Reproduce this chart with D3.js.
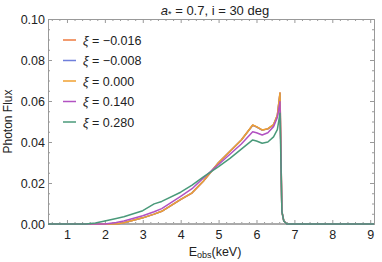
<!DOCTYPE html>
<html>
<head>
<meta charset="utf-8">
<script src="https://cdn.jsdelivr.net/npm/d3@7"></script>
<style>
  body { margin: 0; background: #fff; }
  svg { font-family: "Liberation Sans", Arial, sans-serif; }
  .tick text { fill: #222; font-size: 12.5px; }
</style>
</head>
<body>
<div id="chart"></div>
<script>
// Energies (keV) shared by every curve
const energy = [0.5, 1.0, 1.5, 1.75, 2.0, 2.3, 2.5, 3.0, 3.3, 3.5, 4.0, 4.3, 4.6, 5.0, 5.3, 5.6, 5.9, 6.0, 6.15, 6.3, 6.45, 6.55, 6.62, 6.67, 6.72, 6.8, 7.0, 8.0, 9.1];

// Photon flux for each xi value
const fluxM016 = [0, 0, 0, 0, 0, 0, 0.0006, 0.0030, 0.0048, 0.0062, 0.0119, 0.0151, 0.0209, 0.0299, 0.0354, 0.0410, 0.0482, 0.0474, 0.0458, 0.0464, 0.0484, 0.0529, 0.0640, 0.0060, 0.0015, 0, 0, 0, 0];
const fluxM008 = [0, 0, 0, 0, 0, 0, 0.0006, 0.0030, 0.0048, 0.0062, 0.0120, 0.0152, 0.0210, 0.0300, 0.0355, 0.0410, 0.0482, 0.0474, 0.0458, 0.0464, 0.0484, 0.0529, 0.0637, 0.0060, 0.0015, 0, 0, 0, 0];
const flux000 = [0, 0, 0, 0, 0, 0, 0.0006, 0.0030, 0.0048, 0.0062, 0.0120, 0.0152, 0.0210, 0.0300, 0.0355, 0.0410, 0.0483, 0.0475, 0.0459, 0.0465, 0.0485, 0.0530, 0.0638, 0.0060, 0.0015, 0, 0, 0, 0];
const flux140 = [0, 0, 0, 0, 0, 0.0007, 0.0015, 0.0040, 0.0060, 0.0075, 0.0135, 0.0172, 0.0225, 0.0290, 0.0340, 0.0390, 0.0450, 0.0445, 0.0434, 0.0445, 0.0475, 0.0520, 0.0597, 0.0060, 0.0015, 0, 0, 0, 0];
const flux280 = [0, 0, 0, 0.0005, 0.0015, 0.0027, 0.0035, 0.0065, 0.0098, 0.0110, 0.0155, 0.0190, 0.0230, 0.0280, 0.0320, 0.0365, 0.0410, 0.0405, 0.0394, 0.0400, 0.0425, 0.0460, 0.0540, 0.0060, 0.0015, 0, 0, 0, 0];

const seriesNames = ["\u22120.016", "\u22120.008", "0.000", "0.140", "0.280"];
const seriesColors = ["#ee7a3f", "#6f7fdb", "#f0a030", "#b252c2", "#4a9a7a"];
const seriesFlux = [fluxM016, fluxM008, flux000, flux140, flux280];

const xMajor = [1, 2, 3, 4, 5, 6, 7, 8, 9];
const yMajor = [0, 0.02, 0.04, 0.06, 0.08, 0.10];

const W = 382, H = 262;
const margin = {top: 19, right: 8, bottom: 38, left: 48};
const width = W - margin.left - margin.right,
      height = H - margin.top - margin.bottom;

const svg = d3.select("#chart").append("svg")
  .attr("width", W).attr("height", H);
const g = svg.append("g")
  .attr("transform", `translate(${margin.left},${margin.top})`);

const x = d3.scaleLinear().domain([0.5, 9.1]).range([0, width]);
const y = d3.scaleLinear().domain([0, 0.10]).range([height, 0]);

const xMinor = d3.range(0.6, 9.1, 0.2).filter(v => Math.abs(v - Math.round(v)) > 0.01);
const yMinor = d3.range(0.005, 0.1, 0.005).filter(v => Math.abs(v / 0.02 - Math.round(v / 0.02)) > 0.01);

const frameColor = "#999";

function styleAxis(sel) {
  sel.select(".domain").attr("stroke", frameColor);
  sel.selectAll(".tick line").attr("stroke", frameColor);
}

// bottom
g.append("g").attr("transform", `translate(0,${height})`)
  .call(d3.axisBottom(x).tickValues(xMinor).tickSize(-2).tickFormat("").tickSizeOuter(0))
  .call(styleAxis);
g.append("g").attr("transform", `translate(0,${height})`)
  .call(d3.axisBottom(x).tickValues(xMajor).tickSize(-4).tickPadding(6).tickFormat(d3.format("d")).tickSizeOuter(0))
  .call(styleAxis);
// top
g.append("g")
  .call(d3.axisTop(x).tickValues(xMinor).tickSize(-2).tickFormat("").tickSizeOuter(0))
  .call(styleAxis);
g.append("g")
  .call(d3.axisTop(x).tickValues(xMajor).tickSize(-4).tickFormat("").tickSizeOuter(0))
  .call(styleAxis);
// left
g.append("g")
  .call(d3.axisLeft(y).tickValues(yMinor).tickSize(-2).tickFormat("").tickSizeOuter(0))
  .call(styleAxis);
g.append("g")
  .call(d3.axisLeft(y).tickValues(yMajor).tickSize(-4).tickPadding(3).tickFormat(d3.format(".2f")).tickSizeOuter(0))
  .call(styleAxis);
// right
g.append("g").attr("transform", `translate(${width},0)`)
  .call(d3.axisRight(y).tickValues(yMinor).tickSize(-2).tickFormat("").tickSizeOuter(0))
  .call(styleAxis);
g.append("g").attr("transform", `translate(${width},0)`)
  .call(d3.axisRight(y).tickValues(yMajor).tickSize(-4).tickFormat("").tickSizeOuter(0))
  .call(styleAxis);

// zero axis line
g.append("line")
  .attr("x1", 0).attr("x2", width)
  .attr("y1", y(0)).attr("y2", y(0))
  .attr("stroke", "#aaa").attr("stroke-width", 2);

// curves
const line = d3.line()
  .x((d, i) => x(energy[i]))
  .y(d => y(d));

seriesFlux.forEach((flux, k) => {
  g.append("path")
    .datum(flux)
    .attr("fill", "none")
    .attr("stroke", seriesColors[k])
    .attr("stroke-width", 1.5)
    .attr("stroke-linejoin", "round")
    .attr("d", line);
});

// legend
seriesNames.forEach((name, k) => {
  const ly = 40 + k * 20.5;
  svg.append("line")
    .attr("x1", 63).attr("x2", 76)
    .attr("y1", ly).attr("y2", ly)
    .attr("stroke", seriesColors[k]).attr("stroke-width", 1.5);
  const t = svg.append("text")
    .attr("x", 83).attr("y", ly + 4.5)
    .attr("font-size", 12.5).attr("fill", "#222");
  t.append("tspan").attr("font-style", "italic").text("\u03be");
  t.append("tspan").text(" = " + name);
});

// title
const title = svg.append("text")
  .attr("x", margin.left + width / 2 + 4).attr("y", 15)
  .attr("text-anchor", "middle")
  .attr("font-size", 13).attr("fill", "#222");
title.append("tspan").attr("font-style", "italic").text("a");
title.append("tspan").attr("font-size", 9).attr("dy", 2).text("*");
title.append("tspan").attr("dy", -2).text(" = 0.7, i = 30 deg");

// axis labels
const xl = svg.append("text")
  .attr("x", margin.left + width / 2 + 4).attr("y", 256)
  .attr("text-anchor", "middle")
  .attr("font-size", 12.5).attr("fill", "#222");
xl.append("tspan").text("E");
xl.append("tspan").attr("font-size", 9).attr("dy", 2).text("obs");
xl.append("tspan").attr("dy", -2).text("(keV)");

svg.append("text")
  .attr("transform", `translate(12,${margin.top + height / 2}) rotate(-90)`)
  .attr("text-anchor", "middle")
  .attr("font-size", 12).attr("fill", "#222")
  .text("Photon Flux");
</script>
</body>
</html>
